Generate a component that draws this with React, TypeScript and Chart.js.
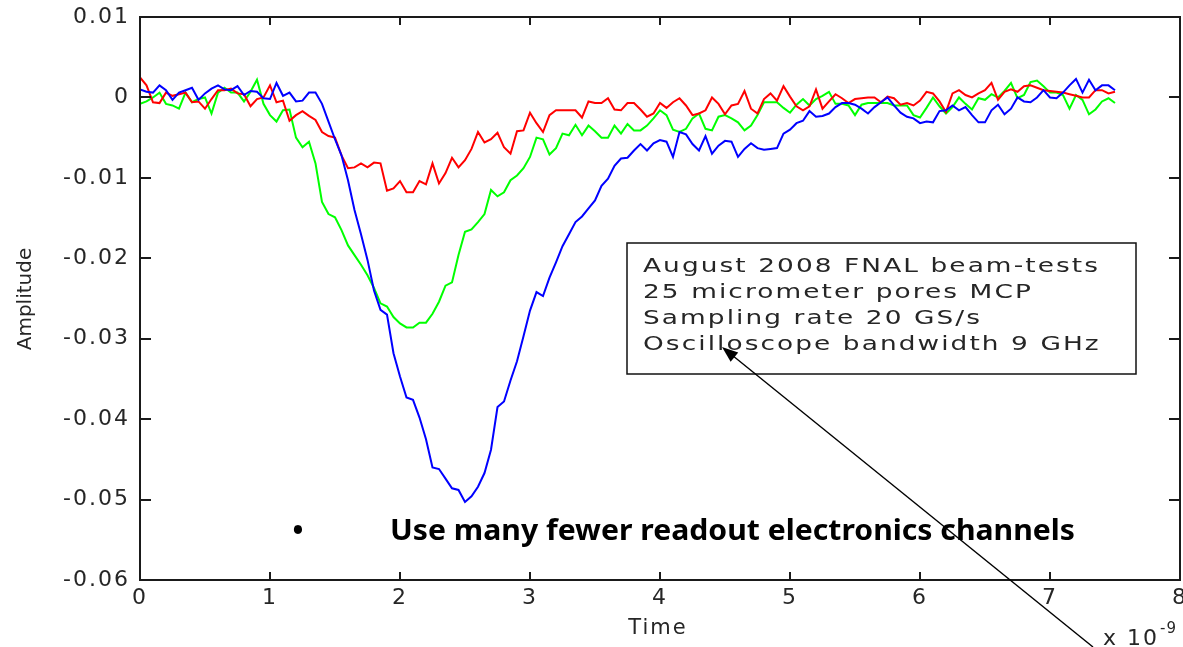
import React, { useEffect, useRef } from "react";
import { Chart, registerables } from "chart.js";

Chart.register(...registerables);

// Sampling rate 20 GS/s -> one sample every 0.05 ns (x axis is in units of 1e-9 s)
const SAMPLE_PERIOD_NS = 0.05;

const blueTrace = [
  0.0010, 0.0007, 0.0006, 0.0015, 0.0009, -0.0003, 0.0006, 0.0009, 0.0012, -0.0003,
  0.0005, 0.0011, 0.0015, 0.0010, 0.0009, 0.0014, 0.0003, 0.0008, 0.0007, -0.0001,
  -0.0002, 0.0018, 0.0002, 0.0006, -0.0005, -0.0004, 0.0006, 0.0006, -0.0008, -0.0030,
  -0.0052, -0.0072, -0.0103, -0.0140, -0.0170, -0.0202, -0.0240, -0.0264, -0.0270, -0.0318,
  -0.0347, -0.0373, -0.0376, -0.0398, -0.0425, -0.0460, -0.0462, -0.0474, -0.0486, -0.0488,
  -0.0503, -0.0496, -0.0484, -0.0467, -0.0438, -0.0385, -0.0378, -0.0352, -0.0328, -0.0297,
  -0.0265, -0.0242, -0.0247, -0.0224, -0.0205, -0.0185, -0.0170, -0.0155, -0.0148, -0.0138,
  -0.0128, -0.0110, -0.0101, -0.0085, -0.0076, -0.0075, -0.0066, -0.0058, -0.0066, -0.0057,
  -0.0053, -0.0055, -0.0074, -0.0043, -0.0046, -0.0058, -0.0066, -0.0048, -0.0070, -0.0060,
  -0.0054, -0.0055, -0.0074, -0.0064, -0.0057, -0.0063, -0.0065, -0.0064, -0.0063, -0.0045,
  -0.0040, -0.0032, -0.0029, -0.0017, -0.0024, -0.0023, -0.0020, -0.0012, -0.0007, -0.0007,
  -0.0009, -0.0014, -0.0020, -0.0012, -0.0006, 0.0000, -0.0010, -0.0019, -0.0024, -0.0026,
  -0.0032, -0.0030, -0.0031, -0.0017, -0.0016, -0.0010, -0.0016, -0.0012, -0.0022, -0.0031,
  -0.0031, -0.0016, -0.0009, -0.0021, -0.0014, 0.0000, -0.0005, -0.0006, 0.0000, 0.0009,
  0.0000, -0.0001, 0.0006, 0.0015, 0.0023, 0.0006, 0.0022, 0.0009, 0.0015, 0.0015,
  0.0009,
];

const greenTrace = [
  -0.0008, -0.0005, 0.0000, 0.0006, -0.0008, -0.0010, -0.0014, 0.0006, -0.0006, -0.0002,
  0.0000, -0.0020, 0.0006, 0.0012, 0.0006, 0.0006, -0.0005, 0.0007, 0.0022, -0.0008,
  -0.0022, -0.0030, -0.0016, -0.0015, -0.0050, -0.0062, -0.0055, -0.0082, -0.0130, -0.0145,
  -0.0149, -0.0165, -0.0184, -0.0196, -0.0208, -0.0221, -0.0237, -0.0256, -0.0260, -0.0273,
  -0.0281, -0.0286, -0.0286, -0.0280, -0.0280, -0.0269, -0.0254, -0.0234, -0.0230, -0.0196,
  -0.0167, -0.0164, -0.0155, -0.0145, -0.0115, -0.0123, -0.0118, -0.0103, -0.0097, -0.0088,
  -0.0074, -0.0050, -0.0052, -0.0071, -0.0063, -0.0045, -0.0047, -0.0034, -0.0047, -0.0035,
  -0.0042, -0.0050, -0.0050, -0.0035, -0.0045, -0.0033, -0.0041, -0.0041, -0.0035, -0.0026,
  -0.0016, -0.0022, -0.0040, -0.0043, -0.0039, -0.0026, -0.0020, -0.0039, -0.0041, -0.0024,
  -0.0022, -0.0026, -0.0031, -0.0041, -0.0035, -0.0022, -0.0006, -0.0006, -0.0006, -0.0013,
  -0.0019, -0.0009, -0.0002, -0.0010, -0.0002, 0.0002, 0.0007, -0.0008, -0.0008, -0.0010,
  -0.0022, -0.0009, -0.0007, -0.0007, -0.0007, -0.0007, -0.0010, -0.0010, -0.0010, -0.0022,
  -0.0025, -0.0013, 0.0000, -0.0011, -0.0020, -0.0012, 0.0000, -0.0008, -0.0015, -0.0001,
  -0.0003, 0.0004, 0.0000, 0.0008, 0.0018, -0.0001, 0.0003, 0.0019, 0.0021, 0.0014,
  0.0006, 0.0006, 0.0003, -0.0014, 0.0003, -0.0003, -0.0021, -0.0015, -0.0005, -0.0001,
  -0.0007,
];

const redTrace = [
  0.0025, 0.0015, -0.0006, -0.0007, 0.0006, 0.0002, 0.0004, 0.0006, -0.0006, -0.0005,
  -0.0014, -0.0002, 0.0009, 0.0009, 0.0011, 0.0005, 0.0004, -0.0011, -0.0002, 0.0000,
  0.0015, -0.0006, -0.0004, -0.0029, -0.0022, -0.0017, -0.0023, -0.0028, -0.0043, -0.0048,
  -0.0050, -0.0072, -0.0088, -0.0087, -0.0082, -0.0087, -0.0081, -0.0082, -0.0116, -0.0113,
  -0.0104, -0.0118, -0.0118, -0.0104, -0.0108, -0.0082, -0.0107, -0.0094, -0.0075, -0.0087,
  -0.0078, -0.0064, -0.0043, -0.0056, -0.0052, -0.0044, -0.0062, -0.0070, -0.0042, -0.0041,
  -0.0019, -0.0032, -0.0043, -0.0022, -0.0016, -0.0016, -0.0016, -0.0016, -0.0025, -0.0005,
  -0.0007, -0.0007, -0.0001, -0.0015, -0.0016, -0.0007, -0.0007, -0.0015, -0.0024, -0.0020,
  -0.0007, -0.0013, -0.0006, -0.0001, -0.0010, -0.0022, -0.0020, -0.0016, 0.0000, -0.0008,
  -0.0021, -0.0010, -0.0008, 0.0008, -0.0014, -0.0020, -0.0002, 0.0005, -0.0004, 0.0014,
  0.0001, -0.0011, -0.0016, -0.0011, 0.0010, -0.0014, -0.0005, 0.0004, -0.0001, -0.0007,
  -0.0002, -0.0001, 0.0000, 0.0000, -0.0006, 0.0001, -0.0001, -0.0009, -0.0007, -0.0010,
  -0.0004, 0.0007, 0.0005, -0.0005, -0.0018, 0.0005, 0.0009, 0.0003, 0.0000, 0.0005,
  0.0009, 0.0018, -0.0003, 0.0007, 0.0010, 0.0007, 0.0014, 0.0015, 0.0012, 0.0009,
  0.0008, 0.0007, 0.0006, 0.0004, 0.0002, 0.0000, 0.0000, 0.0009, 0.0009, 0.0005,
  0.0007,
];

const xTickValues = [0, 1, 2, 3, 4, 5, 6, 7, 8];
const xTickLabels = ["0", "1", "2", "3", "4", "5", "6", "7", "8"];
const yTickValues = [-0.06, -0.05, -0.04, -0.03, -0.02, -0.01, 0, 0.01];
const yTickLabels = ["-0.06", "-0.05", "-0.04", "-0.03", "-0.02", "-0.01", "0", "0.01"];

const xAxisTitle = "Time";
const yAxisTitle = "Amplitude";
const xExponentBase = "x 10";
const xExponentPower = "-9";

const infoLines = [
  "August 2008 FNAL beam-tests",
  "25 micrometer pores MCP",
  "Sampling rate 20 GS/s",
  "Oscilloscope bandwidth 9 GHz",
];
const bulletMark = "\u2022";
const bulletText = "Use many fewer readout electronics channels";

// Figure-level layout (pixels in the 1183x647 figure)
const LAYOUT = {
  width: 1183,
  height: 647,
  plotLeft: 140,
  plotRight: 1180,
  plotTop: 17,
  plotBottom: 580,
  infoBox: { left: 627, top: 243, right: 1136, bottom: 374 },
  infoTextX: 643,
  infoBaselines: [272, 298, 324, 350],
  infoTextWidth: 457,
  arrowTip: [722, 347],
  arrowTail: [1093, 647],
  bulletX: 298,
  bulletBaseline: 540,
  bulletTextX: 390,
  bulletTextWidth: 685,
  timeX: 657,
  timeBaseline: 634,
  ampX: 26,
  ampY: 299,
  expX: 1103,
  expBaseline: 645,
};

const TEXT_COLOR = "#262626";
const AXIS_COLOR = "#1a1a1a";
const TICK_FONT = "DejaVu Sans";
const SPACING = "2px";

const toPoints = (vals: number[]) =>
  vals.map((y, i) => ({ x: Math.round(i * SAMPLE_PERIOD_NS * 100) / 100, y }));

const figurePlugin = {
  id: "figureDecor",
  beforeLayout(chart: any) {
    chart.ctx.letterSpacing = SPACING;
  },
  beforeDraw(chart: any) {
    const c = chart.ctx;
    c.letterSpacing = SPACING;
    c.save();
    c.fillStyle = "#ffffff";
    c.fillRect(0, 0, chart.width, chart.height);
    c.restore();
  },
  afterDraw(chart: any) {
    const { ctx, chartArea: a, scales } = chart;
    const xs = scales.x;
    const ys = scales.y;
    ctx.save();

    // axes box
    ctx.strokeStyle = AXIS_COLOR;
    ctx.lineWidth = 2;
    ctx.strokeRect(a.left, a.top, a.right - a.left, a.bottom - a.top);

    // inward tick marks on all four sides
    ctx.beginPath();
    xTickValues.forEach((v) => {
      const p = Math.round(xs.getPixelForValue(v));
      ctx.moveTo(p, a.bottom);
      ctx.lineTo(p, a.bottom - 8);
      ctx.moveTo(p, a.top);
      ctx.lineTo(p, a.top + 8);
    });
    yTickValues.forEach((v) => {
      const p = Math.round(ys.getPixelForValue(v));
      ctx.moveTo(a.left, p);
      ctx.lineTo(a.left + 11, p);
      ctx.moveTo(a.right, p);
      ctx.lineTo(a.right - 11, p);
    });
    ctx.stroke();

    // axis titles
    ctx.fillStyle = TEXT_COLOR;
    ctx.letterSpacing = SPACING;
    ctx.font = `21px "${TICK_FONT}"`;
    ctx.textAlign = "center";
    ctx.textBaseline = "alphabetic";
    ctx.fillText(xAxisTitle, LAYOUT.timeX + 1, LAYOUT.timeBaseline);

    ctx.save();
    ctx.letterSpacing = "0px";
    ctx.translate(LAYOUT.ampX, LAYOUT.ampY);
    ctx.rotate(-Math.PI / 2);
    ctx.font = `20px "${TICK_FONT}"`;
    ctx.textBaseline = "middle";
    ctx.fillText(yAxisTitle, 0, 0);
    ctx.restore();

    // exponent label
    ctx.textAlign = "left";
    ctx.textBaseline = "alphabetic";
    ctx.font = `22px "${TICK_FONT}"`;
    ctx.letterSpacing = SPACING;
    ctx.fillText(xExponentBase, LAYOUT.expX, LAYOUT.expBaseline);
    const baseW = ctx.measureText(xExponentBase).width;
    ctx.font = `15px "${TICK_FONT}"`;
    ctx.letterSpacing = "1px";
    ctx.fillText(xExponentPower, LAYOUT.expX + baseW + 1, LAYOUT.expBaseline - 12);

    // info box
    const b = LAYOUT.infoBox;
    ctx.fillStyle = "#ffffff";
    ctx.fillRect(b.left, b.top, b.right - b.left, b.bottom - b.top);
    ctx.strokeStyle = "#111111";
    ctx.lineWidth = 1.5;
    ctx.strokeRect(b.left, b.top, b.right - b.left, b.bottom - b.top);
    ctx.fillStyle = TEXT_COLOR;
    ctx.font = `19px "${TICK_FONT}"`;
    ctx.letterSpacing = "1.5px";
    const sInfo = LAYOUT.infoTextWidth / ctx.measureText(infoLines[0]).width;
    infoLines.forEach((line, i) => {
      ctx.save();
      ctx.translate(LAYOUT.infoTextX, LAYOUT.infoBaselines[i]);
      ctx.scale(sInfo, 1);
      ctx.fillText(line, 0, 0);
      ctx.restore();
    });

    // arrow
    const [tx, ty] = LAYOUT.arrowTip;
    const [sx, sy] = LAYOUT.arrowTail;
    const ang = Math.atan2(ty - sy, tx - sx);
    const L = 16;
    const W = 6;
    ctx.strokeStyle = "#000000";
    ctx.lineWidth = 1.4;
    ctx.beginPath();
    ctx.moveTo(sx, sy);
    ctx.lineTo(tx - Math.cos(ang) * 8, ty - Math.sin(ang) * 8);
    ctx.stroke();
    ctx.fillStyle = "#000000";
    ctx.beginPath();
    ctx.moveTo(tx, ty);
    ctx.lineTo(tx - L * Math.cos(ang) + W * Math.sin(ang), ty - L * Math.sin(ang) - W * Math.cos(ang));
    ctx.lineTo(tx - L * Math.cos(ang) - W * Math.sin(ang), ty - L * Math.sin(ang) + W * Math.cos(ang));
    ctx.closePath();
    ctx.fill();

    // bullet line
    ctx.letterSpacing = "0px";
    ctx.fillStyle = "#000000";
    ctx.font = `bold 29px "Noto Sans"`;
    ctx.textAlign = "center";
    ctx.fillText(bulletMark, LAYOUT.bulletX, LAYOUT.bulletBaseline);
    ctx.textAlign = "left";
    const sBullet = LAYOUT.bulletTextWidth / ctx.measureText(bulletText).width;
    ctx.save();
    ctx.translate(LAYOUT.bulletTextX, LAYOUT.bulletBaseline);
    ctx.scale(sBullet, 1);
    ctx.fillText(bulletText, 0, 0);
    ctx.restore();

    ctx.restore();
  },
};

export default function App() {
  const canvasRef = useRef<HTMLCanvasElement | null>(null);

  useEffect(() => {
    const canvas = canvasRef.current;
    if (!canvas) return;
    const chart = new Chart(canvas, {
      type: "line",
      data: {
        datasets: [
          {
            label: "Channel A",
            data: toPoints(blueTrace),
            borderColor: "#0000ff",
            borderWidth: 2,
            pointRadius: 0,
            tension: 0,
            fill: false,
          },
          {
            label: "Channel B",
            data: toPoints(redTrace),
            borderColor: "#ff0000",
            borderWidth: 2,
            pointRadius: 0,
            tension: 0,
            fill: false,
          },
          {
            label: "Channel C",
            data: toPoints(greenTrace),
            borderColor: "#00ff00",
            borderWidth: 2,
            pointRadius: 0,
            tension: 0,
            fill: false,
          },
        ],
      },
      options: {
        animation: false,
        responsive: false,
        devicePixelRatio: 1,
        parsing: false as any,
        normalized: true,
        layout: {
          padding: {
            left: 0,
            right: LAYOUT.width - LAYOUT.plotRight,
            top: LAYOUT.plotTop,
            bottom: 0,
          },
        },
        plugins: {
          legend: { display: false },
          tooltip: { enabled: false },
          title: { display: false },
        },
        scales: {
          x: {
            type: "linear",
            min: 0,
            max: 8,
            afterBuildTicks: (s: any) => {
              s.ticks = xTickValues.map((v) => ({ value: v }));
            },
            afterFit: (s: any) => {
              s.height = LAYOUT.height - LAYOUT.plotBottom;
              s.paddingLeft = 0;
              s.paddingRight = 0;
            },
            ticks: {
              autoSkip: false,
              maxRotation: 0,
              padding: 5,
              color: TEXT_COLOR,
              font: { family: TICK_FONT, size: 22 },
              callback: (_v: any, i: number) => xTickLabels[i],
            },
            grid: { display: false, drawTicks: false },
            border: { display: false },
          },
          y: {
            type: "linear",
            min: -0.06,
            max: 0.01,
            afterBuildTicks: (s: any) => {
              s.ticks = yTickValues.map((v) => ({ value: v }));
            },
            afterFit: (s: any) => {
              s.width = LAYOUT.plotLeft;
              s.paddingTop = 0;
              s.paddingBottom = 0;
            },
            ticks: {
              autoSkip: false,
              padding: 10,
              color: TEXT_COLOR,
              font: { family: TICK_FONT, size: 22 },
              callback: (_v: any, i: number) => yTickLabels[i],
            },
            grid: { display: false, drawTicks: false },
            border: { display: false },
          },
        },
      },
      plugins: [figurePlugin],
    } as any);
    return () => chart.destroy();
  }, []);

  return (
    <canvas
      ref={canvasRef}
      width={LAYOUT.width}
      height={LAYOUT.height}
      style={{ position: "absolute", left: 0, top: 0, display: "block" }}
    />
  );
}
